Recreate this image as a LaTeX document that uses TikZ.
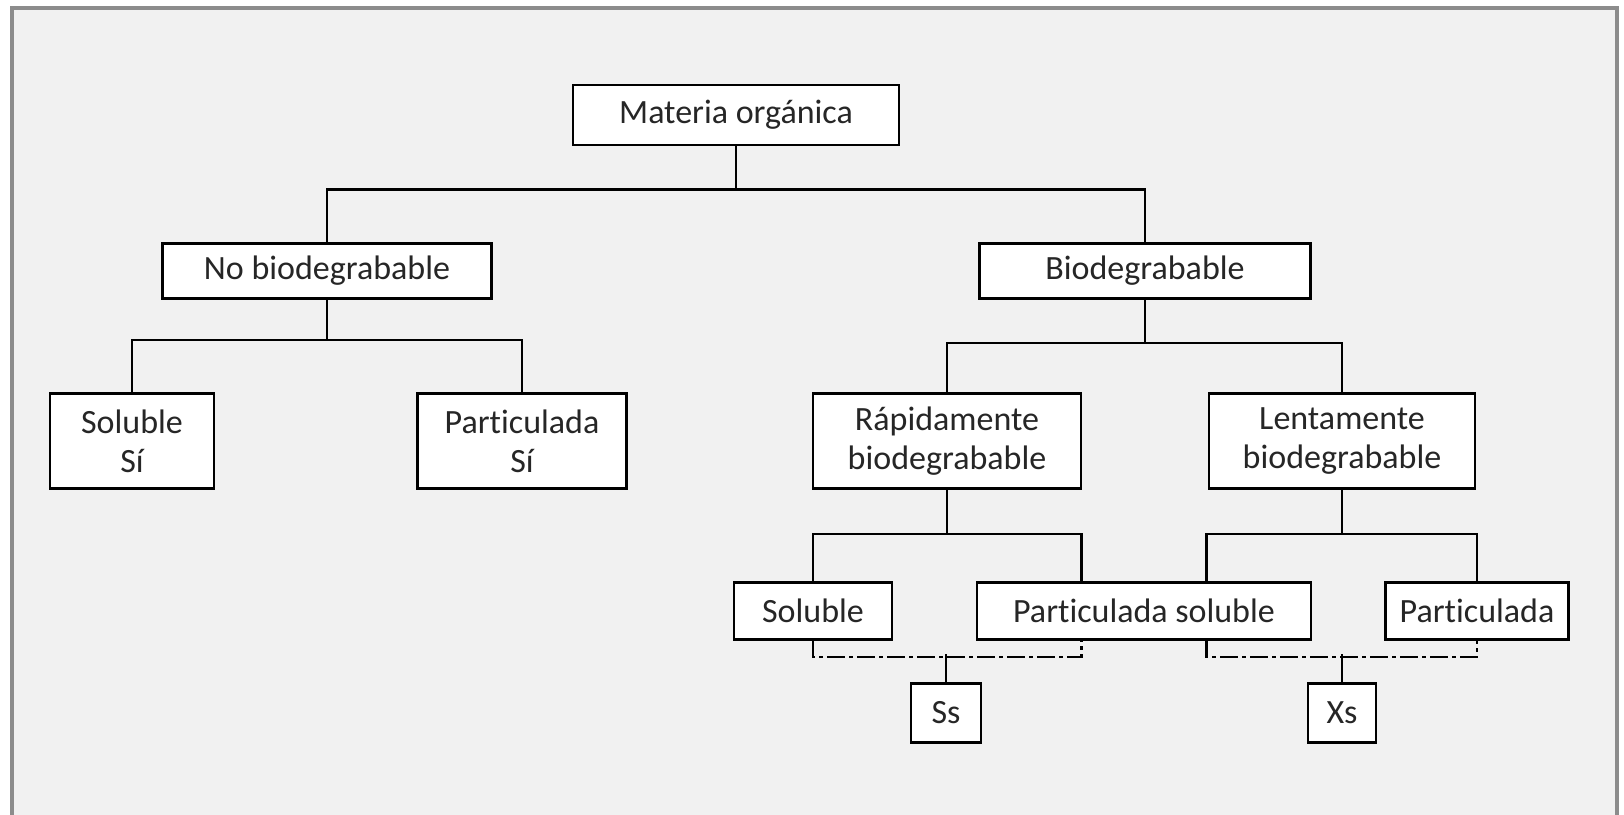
\documentclass[tikz,border=0pt]{standalone}
\usepackage{fontspec}
\setmainfont{Carlito}[Ligatures=NoCommon]
\definecolor{panel}{HTML}{F1F1F1}
\definecolor{rim}{HTML}{8C8C8C}
\definecolor{tinta}{HTML}{262626}
\tikzset{
  caja/.style={draw, fill=white, line width=2.8pt, align=center, inner sep=0pt,
    text=tinta, font=\fontsize{34}{39}\selectfont},
  rama/.style={line width=2.8pt},
  puntos/.style={line width=2.8pt, dash pattern=on 18pt off 4pt on 4pt off 4pt}
}
\begin{document}
\begin{tikzpicture}[x=1pt,y=-1pt]
  \useasboundingbox (0,0) rectangle (1624,814);
  \fill[white] (0,0) rectangle (1624,814);
  \draw[rim, line width=4pt, fill=panel] (12,8) rectangle (1617,840);
  \draw
    (736,115) node[caja, minimum width=326pt, minimum height=60pt] (mo) {Materia orgánica}
    (327,271) node[caja, minimum width=329pt, minimum height=55pt] (nb) {No biodegrabable}
    (1145,271) node[caja, minimum width=331pt, minimum height=55pt] (bio) {Biodegrabable}
    (132,441) node[caja, minimum width=164pt, minimum height=95pt] (sol1) {Soluble\\Sí}
    (522,441) node[caja, minimum width=209pt, minimum height=95pt] (par1) {Particulada\\Sí}
    (947,441) node[caja, minimum width=268pt, minimum height=95pt] (rap) {Rápidamente\\biodegrabable}
    (1342,441) node[caja, minimum width=266pt, minimum height=95pt] (len) {Lentamente\\biodegrabable}
    (813,611) node[caja, minimum width=158pt, minimum height=57pt] (sol2) {Soluble}
    (1144,611) node[caja, minimum width=334pt, minimum height=57pt] (ps) {Particulada soluble}
    (1477,611) node[caja, minimum width=183pt, minimum height=57pt] (par2) {Particulada}
    (946,713) node[caja, minimum width=70pt, minimum height=59pt] (ss) {Ss}
    (1342,713) node[caja, minimum width=68pt, minimum height=59pt] (xs) {Xs};
  \begin{scope}[rama]
    \draw (mo.south) -- ++(0,43) -| (nb.north);
    \draw (mo.south) -- ++(0,43) -| (bio.north);
    \draw (nb.south) -- ++(0,40) -| (sol1.north);
    \draw (nb.south) -- ++(0,40) -| (par1.north);
    \draw (bio.south) -- ++(0,43) -| (rap.north);
    \draw (bio.south) -- ++(0,43) -| (len.north);
    \draw (rap.south) -- ++(0,44) -| (sol2.north);
    \draw (rap.south) -- ++(0,44) -| ([xshift=106pt]ps.north west);
    \draw (len.south) -- ++(0,44) -| ([xshift=-106pt]ps.north east);
    \draw (len.south) -- ++(0,44) -| (par2.north);
    \draw (ss.north) -- ++(0,-28);
    \draw (xs.north) -- ++(0,-28);
  \end{scope}
  \draw[puntos] (sol2.south) -- ++(0,16) -| ([xshift=106pt]ps.south west);
  \draw[puntos] ([xshift=-106pt]ps.south east) -- ++(0,16) -| (par2.south);
\end{tikzpicture}
\end{document}
